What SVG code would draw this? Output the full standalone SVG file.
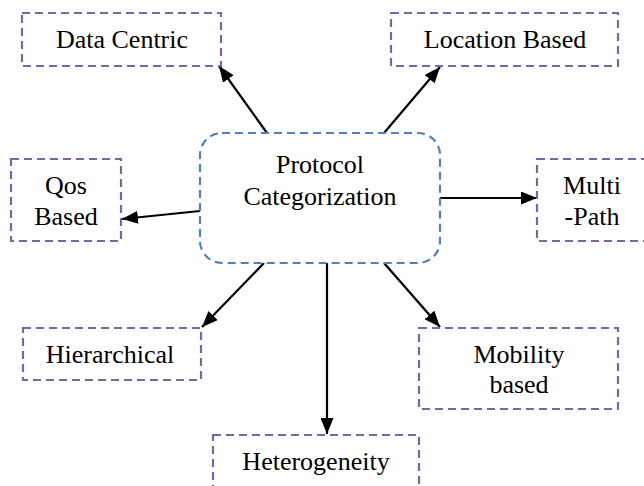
<svg xmlns="http://www.w3.org/2000/svg" width="644" height="486" viewBox="0 0 644 486">
<defs>
<marker id="ah" markerUnits="userSpaceOnUse" markerWidth="17" markerHeight="13" refX="16" refY="6.5" orient="auto">
<path d="M0,0 L16,6.5 L0,13 z" fill="#000"/>
</marker>
</defs>
<g id="connectors" stroke="#000" stroke-width="2.2" fill="none" marker-end="url(#ah)">
<line x1="267" y1="133" x2="219" y2="66"/>
<line x1="384" y1="133" x2="440" y2="67"/>
<line x1="200" y1="211" x2="122" y2="219"/>
<line x1="440" y1="198" x2="537" y2="198"/>
<line x1="264" y1="263" x2="202" y2="327"/>
<line x1="327" y1="263" x2="327" y2="434"/>
<line x1="384" y1="263" x2="440" y2="327"/>
</g>
<g id="center">
<rect x="200" y="133" width="240" height="130" rx="22" ry="22" fill="#fff" stroke="#4F81BD" stroke-width="2.2" stroke-dasharray="8,5"/>
<text x="320" y="173" style="font-family:'Times New Roman';font-size:26px" text-anchor="middle">Protocol</text>
<text x="320" y="205" style="font-family:'Times New Roman';font-size:26px" text-anchor="middle">Categorization</text>
</g>
<g id="data-centric">
<rect x="22" y="13" width="199" height="53" fill="#fff" stroke="#8064A2" stroke-width="2.2" stroke-dasharray="8,5"/>
<text x="122" y="48" style="font-family:'Times New Roman';font-size:26px" text-anchor="middle">Data Centric</text>
</g>
<g id="location-based">
<rect x="391" y="13" width="227" height="53" fill="#fff" stroke="#8064A2" stroke-width="2.2" stroke-dasharray="8,5"/>
<text x="505" y="48" style="font-family:'Times New Roman';font-size:26px" text-anchor="middle">Location Based</text>
</g>
<g id="qos-based">
<rect x="11" y="159" width="110" height="82" fill="#fff" stroke="#8064A2" stroke-width="2.2" stroke-dasharray="8,5"/>
<text x="66" y="194" style="font-family:'Times New Roman';font-size:26px" text-anchor="middle">Qos</text>
<text x="66" y="225" style="font-family:'Times New Roman';font-size:26px" text-anchor="middle">Based</text>
</g>
<g id="multi-path">
<rect x="537" y="159" width="120" height="82" fill="#fff" stroke="#8064A2" stroke-width="2.2" stroke-dasharray="8,5"/>
<text x="592" y="194" style="font-family:'Times New Roman';font-size:26px" text-anchor="middle">Multi</text>
<text x="592" y="225" style="font-family:'Times New Roman';font-size:26px" text-anchor="middle">-Path</text>
</g>
<g id="hierarchical">
<rect x="23" y="328" width="178" height="52" fill="#fff" stroke="#8064A2" stroke-width="2.2" stroke-dasharray="8,5"/>
<text x="110" y="363" style="font-family:'Times New Roman';font-size:26px" text-anchor="middle">Hierarchical</text>
</g>
<g id="mobility-based">
<rect x="419" y="328" width="199" height="81" fill="#fff" stroke="#8064A2" stroke-width="2.2" stroke-dasharray="8,5"/>
<text x="519" y="363" style="font-family:'Times New Roman';font-size:26px" text-anchor="middle">Mobility</text>
<text x="519" y="393" style="font-family:'Times New Roman';font-size:26px" text-anchor="middle">based</text>
</g>
<g id="heterogeneity">
<rect x="213" y="435" width="206" height="70" fill="#fff" stroke="#8064A2" stroke-width="2.2" stroke-dasharray="8,5"/>
<text x="316" y="470" style="font-family:'Times New Roman';font-size:26px" text-anchor="middle">Heterogeneity</text>
</g>
</svg>
